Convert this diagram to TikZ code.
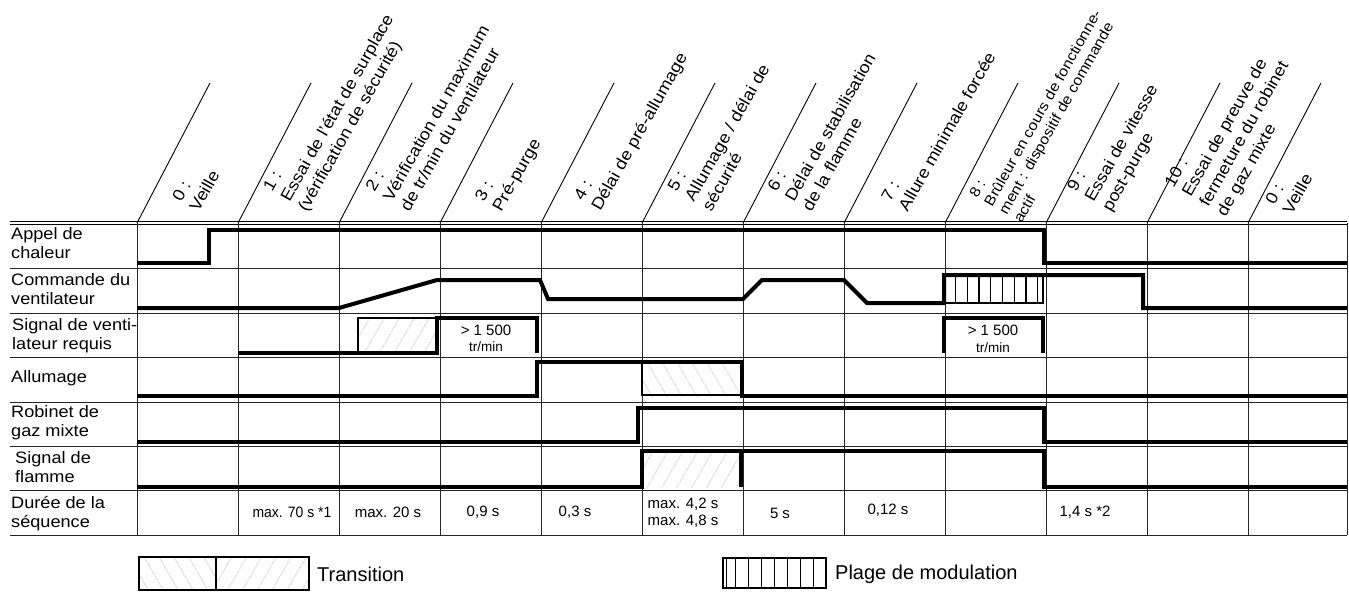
\documentclass[tikz,border=0pt]{standalone}
\usepackage{fontspec}
\setmainfont{Liberation Sans}[FakeStretch=1.1]
\newfontfamily\plainsans{Liberation Sans}
\newfontfamily\narrowsans{Liberation Sans}[FakeStretch=0.93]
\usetikzlibrary{patterns.meta}
\begin{document}
\begin{tikzpicture}[x=1pt,y=-1pt,
  grid/.style={line width=1pt, black!85},
  diag/.style={line width=0.9pt, black},
  sig/.style={line width=4pt, black, line join=miter},
  hatchR/.style={pattern={Lines[angle=60,distance=13pt,line width=0.6pt]}, pattern color=black!40},
  hatchL/.style={pattern={Lines[angle=-60,distance=13pt,line width=0.6pt]}, pattern color=black!40},
  lbl/.style={anchor=north west, inner sep=0pt, align=left, font=\fontsize{16.5}{19.5}\selectfont},
  hdr/.style={anchor=west, inner sep=0pt, align=left, rotate=60.5, font=\fontsize{16.5}{20}\selectfont},
  dur/.style={inner sep=0pt, align=left, font=\plainsans\fontsize{15}{17}\selectfont},
  leg/.style={anchor=west, inner sep=0pt, font=\plainsans\fontsize{20}{24}\selectfont},
]
\useasboundingbox (0,0) rectangle (1349,592);

% header diagonals
\foreach \i in {0,...,11} { \draw[diag] ({137+101*\i},223) -- ({210+101*\i},83); }

% header texts
\node[hdr] (h0) at (185,205) {0 :\\Veille};
\node[hdr] (h1) at (286,201) {1 :\\Essai de l’état de surplace\\(vérification de sécurité)};
\node[hdr] (h2) at (387,200) {2 :\\Vérification du maximum\\de tr/min du ventilateur};
\node[hdr] (h3) at (489,206) {3 :\\Pré-purge};
\node[hdr] (h4) at (588,205) {4 :\\Délai de pré-allumage};
\node[hdr] (h5) at (689,200) {5 :\\Allumage / délai de\\sécurité};
\node[hdr] (h6) at (789,200) {6 :\\Délai de stabilisation\\de la flamme};
\node[hdr] (h7) at (894,205) {7 :\\Allure minimale forcée};
\node[hdr, font=\fontsize{14.5}{17}\selectfont] (h8) at (995,209) {8 :\\Brûleur en cours de fonctionne-\\ment : dispositif de commande\\actif};
\node[hdr] (h9) at (1090,201) {9 :\\Essai de vitesse\\post-purge};
\node[hdr] (h10) at (1196,201) {10 :\\Essai de preuve de\\fermeture du robinet\\de gaz mixte};
\node[hdr] (h11) at (1278,208) {0 :\\Veille};

% hatched boxes (under grid and traces)
\fill[hatchR] (358,318) rectangle (437,353);
\fill[hatchL] (642,362) rectangle (742,396);
\fill[hatchR] (642,451) rectangle (741,487);

% grid
\draw[line width=0.8pt] (10,221.8) -- (1347,221.8);
\draw[line width=0.8pt] (10,224.6) -- (1347,224.6);
\foreach \y in {268,313,357,402,446,490,535} { \draw[grid] (10,\y) -- (1347,\y); }
\foreach \i in {0,...,11} { \draw[grid] ({137+101*\i},223) -- ({137+101*\i},535); }
\draw[grid] (1347,223) -- (1347,535);

% box outlines
\draw[line width=1.5pt] (358,353) -- (358,318) -- (437,318);
\draw[line width=1.1pt] (642,362) -- (642,395) -- (742,395);

% modulation range (row 2)
\draw[line width=2pt] (944,303) -- (1043,303) -- (1043,275);
\foreach \k in {1,...,8} { \draw[line width=1.3pt] ({944+11.7*\k},275) -- ({944+11.7*\k},303); }

% signal traces
\draw[sig] (137,263) -- (209,263) -- (209,230) -- (1044,230) -- (1044,263) -- (1347,263);
\draw[sig] (137,308) -- (339,308) -- (437,280) -- (540,280) -- (548,299) -- (743,299) -- (762,280) -- (844,280) -- (867,303) -- (944,303) -- (944,275) -- (1143,275) -- (1143,308) -- (1347,308);
\draw[sig] (238,353) -- (437,353) -- (437,318) -- (537,318) -- (537,353);
\draw[sig] (944,353) -- (944,318) -- (1043,318) -- (1043,353);
\draw[sig] (137,396) -- (537,396) -- (537,362) -- (742,362) -- (742,396) -- (1347,396);
\draw[sig] (137,442) -- (638,442) -- (638,408) -- (1044,408) -- (1044,442) -- (1347,442);
\draw[sig] (137,487) -- (642,487) -- (642,451) -- (1044,451) -- (1044,487) -- (1347,487);
\draw[sig] (741,451) -- (741,487);

% speed texts
\node[dur] (s1a) at (486,330) {> 1 500};
\node[dur, font=\plainsans\fontsize{13.5}{15}\selectfont] (s1b) at (486,347) {tr/min};
\node[dur] (s2a) at (993,330) {> 1 500};
\node[dur, font=\plainsans\fontsize{13.5}{15}\selectfont] (s2b) at (993,348) {tr/min};

% row labels
\node[lbl] (r1) at (11,227) {Appel de\\chaleur};
\node[lbl] (r2) at (11,273) {Commande du\\ventilateur};
\node[lbl] (r3) at (12,318) {Signal de venti-\\lateur requis};
\node[lbl] (r4) at (11,370) {Allumage};
\node[lbl] (r5) at (11,405) {Robinet de\\gaz mixte};
\node[lbl] (r6) at (15,451) {Signal de\\flamme};
\node[lbl] (r7) at (11,496) {Durée de la\\séquence};

% durations
\node[dur, font=\narrowsans\fontsize{15}{17}\selectfont] (d1) at (292,512) {max. 70 s *1};
\node[dur] (d2) at (388,512) {max. 20 s};
\node[dur] (d3) at (483,512) {0,9 s};
\node[dur] (d4) at (575,512) {0,3 s};
\node[dur] (d5) at (683,513) {max. 4,2 s\\max. 4,8 s};
\node[dur] (d6) at (780,513) {5 s};
\node[dur] (d7) at (888,510) {0,12 s};
\node[dur] (d9) at (1085,512) {1,4 s *2};

% legend
\fill[hatchL] (139,557) rectangle (216,590);
\fill[hatchR] (216,557) rectangle (309,590);
\draw[line width=1.3pt] (139,557) rectangle (309,590);
\draw[line width=1.3pt] (216,557) -- (216,590);
\node[leg] (lt) at (317,574) {Transition};
\draw[line width=1.3pt] (723,558) rectangle (826,588);
\draw[line width=1pt] (726,558) -- (726,588);
\foreach \k in {1,...,7} { \draw[line width=1.1pt] ({723+12.875*\k},558) -- ({723+12.875*\k},588); }
\node[leg] (lm) at (835,574) {Plage de modulation};
\end{tikzpicture}
\end{document}
